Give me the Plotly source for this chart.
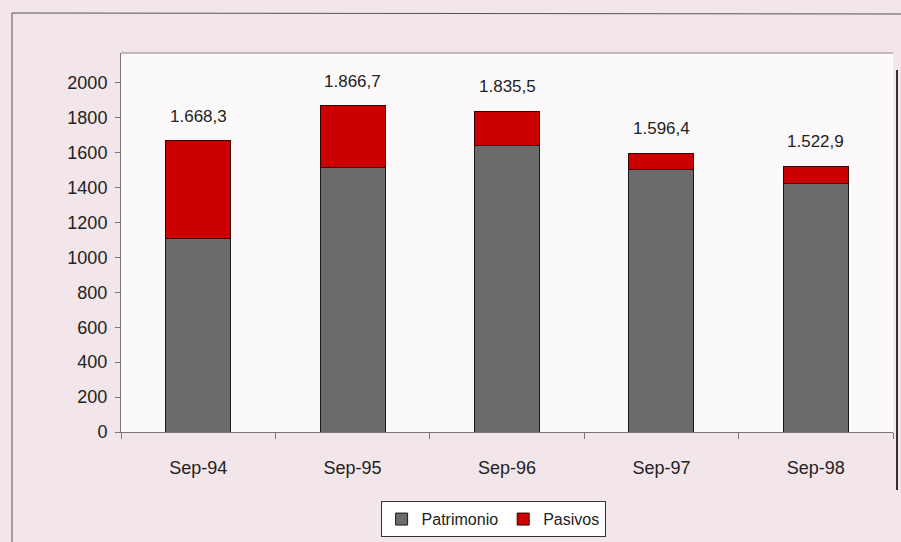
import plotly.graph_objects as go

categories = ["Sep-94", "Sep-95", "Sep-96", "Sep-97", "Sep-98"]
patrimonio = [1110, 1515, 1640, 1505, 1420]
pasivos = [558.3, 351.7, 195.5, 91.4, 102.9]
total_labels = ["1.668,3", "1.866,7", "1.835,5", "1.596,4", "1.522,9"]
y_ticks = [0, 200, 400, 600, 800, 1000, 1200, 1400, 1600, 1800, 2000]

FONT = "Liberation Sans, Arial, sans-serif"

fig = go.Figure()
fig.add_trace(go.Bar(
    x=categories, y=patrimonio, name="Patrimonio",
    marker=dict(color="#6d6a6e", line=dict(color="#1a1a1a", width=1)),
    width=0.42,
))
fig.add_trace(go.Bar(
    x=categories, y=pasivos, name="Pasivos",
    marker=dict(color="#cc0000", line=dict(color="#3a0000", width=1)),
    width=0.42,
))

totals = [a + b for a, b in zip(patrimonio, pasivos)]
for c, t, lab in zip(categories, totals, total_labels):
    fig.add_annotation(x=c, y=t, text=lab, showarrow=False, yanchor="bottom",
                       yshift=13, font=dict(size=17, color="#222222", family=FONT))

# outer frame lines (left & top)
fig.add_shape(type="line", xref="paper", yref="paper",
              x0=(12 - 121) / 772, x1=(12 - 121) / 772,
              y0=-1, y1=(432 - 13) / 379, line=dict(color="#555555", width=1))
fig.add_shape(type="line", xref="paper", yref="paper",
              x0=(12 - 121) / 772, x1=1.02,
              y0=(432 - 13) / 379, y1=(432 - 14) / 379, line=dict(color="#555555", width=1))

fig.update_layout(
    width=901, height=542,
    margin=dict(l=121, r=8, t=53, b=110, autoexpand=False),
    paper_bgcolor="#f2e6eb",
    plot_bgcolor="#fcf9fa",
    barmode="stack",
    bargap=0.58,
    font=dict(family=FONT, size=18, color="#222222"),
    showlegend=True,
    legend=dict(orientation="h", x=0.482, xanchor="center", y=-0.23, yanchor="middle",
                bgcolor="#ffffff", bordercolor="#333333", borderwidth=1,
                font=dict(size=16, color="#222222"), traceorder="normal",
                itemwidth=30, tracegroupgap=0),
    xaxis=dict(showline=True, linecolor="#777777", linewidth=1, automargin=False,
               ticks="outside", ticklen=6, tickcolor="#777777", tickson="boundaries",
               ticklabelstandoff=19, mirror=False, showgrid=False,
               tickfont=dict(size=18)),
    yaxis=dict(range=[0, 2170], tickvals=y_ticks, showgrid=False, zeroline=False,
               showline=True, linecolor="#777777", linewidth=1, automargin=False,
               ticks="outside", ticklen=5, tickcolor="#777777",
               ticklabelstandoff=4, tickfont=dict(size=18)),
)
# top border of plot area
fig.add_shape(type="line", xref="paper", yref="paper", x0=0, x1=1, y0=1, y1=1,
              line=dict(color="#888888", width=1))
# right dark edge
fig.add_shape(type="line", xref="paper", yref="paper", x0=(897 - 121) / 772, x1=(897 - 121) / 772,
              y0=(432 - 490) / 379, y1=(432 - 70) / 379, line=dict(color="#333333", width=2))

fig.write_html("out.html")
